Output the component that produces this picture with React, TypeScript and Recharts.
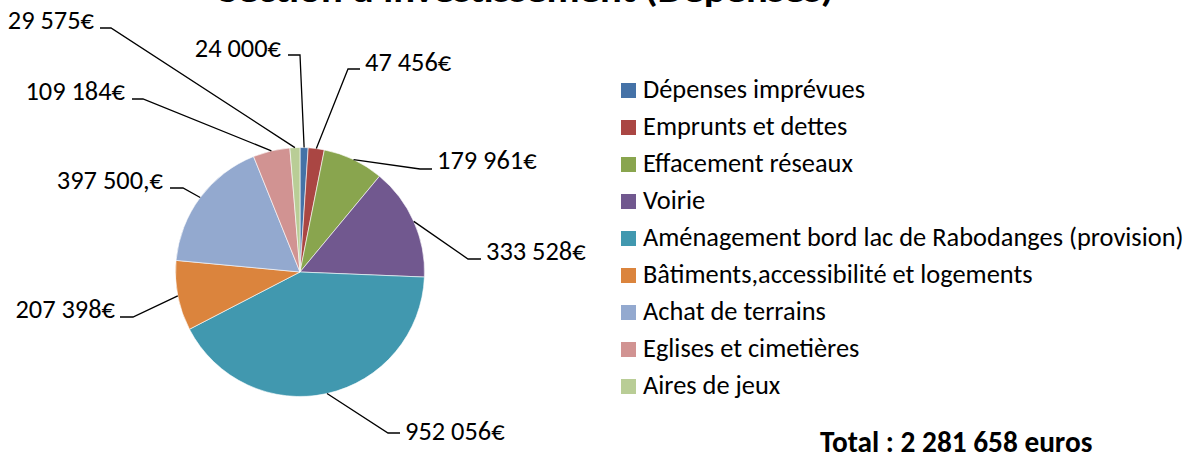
import React from 'react';
import { PieChart, Pie, Cell, Legend } from 'recharts';

const categories = [
  'Dépenses imprévues',
  'Emprunts et dettes',
  'Effacement réseaux',
  'Voirie',
  'Aménagement bord lac de Rabodanges (provision)',
  'Bâtiments,accessibilité et logements',
  'Achat de terrains',
  'Eglises et cimetières',
  'Aires de jeux',
];
const amounts = [24000, 47456, 179961, 333528, 952056, 207398, 397500, 109184, 29575];
const valueLabels = ['24 000€', '47 456€', '179 961€', '333 528€', '952 056€', '207 398€', '397 500,€', '109 184€', '29 575€'];
const colors = ['#4572A7', '#AA4643', '#89A54E', '#71588F', '#4198AF', '#DB843D', '#93A9CF', '#D19392', '#B9CD96'];
const titleText = "Section d'investissement (Dépenses)";
const totalText = 'Total : 2 281 658 euros';

const FONT = "Carlito, Calibri, Lato, 'Liberation Sans', sans-serif";
const TEXT_SIZE = 26.4;

// Layout of the manually placed data labels (elbow of leader line, end of horizontal stub, text anchor)
const labelLayout = [
  { ex: 300, ey: 55, hx: 288, tx: 281, ty: 57, anchor: 'end' },
  { ex: 348, ey: 69, hx: 360, tx: 365, ty: 71, anchor: 'start' },
  { ex: 420, ey: 169, hx: 432, tx: 437, ty: 169, anchor: 'start' },
  { ex: 468, ey: 259, hx: 481, tx: 486, ty: 260, anchor: 'start' },
  { ex: 388, ey: 433, hx: 400, tx: 405, ty: 440, anchor: 'start' },
  { ex: 133, ey: 317, hx: 120, tx: 115, ty: 318, anchor: 'end' },
  { ex: 183, ey: 188, hx: 170, tx: 163, ty: 189, anchor: 'end' },
  { ex: 143, ey: 99, hx: 132, tx: 125, ty: 100, anchor: 'end' },
  { ex: 111, ey: 28, hx: 100, tx: 94, ty: 29, anchor: 'end' },
];

const data = categories.map((name, i) => ({ name, value: amounts[i] }));

const RAD = Math.PI / 180;

const renderLabel = (props: any) => {
  const { cx, cy, midAngle, outerRadius, index } = props;
  const sx = cx + outerRadius * Math.cos(-midAngle * RAD);
  const sy = cy + outerRadius * Math.sin(-midAngle * RAD);
  const l = labelLayout[index];
  return (
    <g key={`lbl-${index}`}>
      <polyline
        points={`${sx},${sy} ${l.ex},${l.ey} ${l.hx},${l.ey}`}
        fill="none"
        stroke="#000"
        strokeWidth={1.3}
      />
      <text x={l.tx} y={l.ty} textAnchor={l.anchor} fontFamily={FONT} fontSize={TEXT_SIZE} fill="#000">
        {valueLabels[index]}
      </text>
    </g>
  );
};

const renderLegend = () => (
  <svg width={590} height={340} style={{ display: 'block' }}>
    {categories.map((name, i) => (
      <g key={name}>
        <rect x={11} y={13 + i * 37} width={15} height={15} fill={colors[i]} />
        <text x={33} y={28 + i * 37} fontFamily={FONT} fontSize={TEXT_SIZE} fill="#000">
          {name}
        </text>
      </g>
    ))}
  </svg>
);

export default function App() {
  return (
    <div style={{ position: 'absolute', left: 0, top: 0, width: 1198, height: 461, background: '#fff', overflow: 'hidden' }}>
      <PieChart width={1198} height={461} margin={{ top: 0, right: 0, bottom: 0, left: 0 }}>
        <Pie
          data={data}
          dataKey="value"
          nameKey="name"
          cx={300}
          cy={272}
          outerRadius={124.5}
          startAngle={90}
          endAngle={-270}
          stroke="#ffffff"
          strokeWidth={0.6}
          label={renderLabel}
          labelLine={false}
          isAnimationActive={false}
        >
          {data.map((d, i) => (
            <Cell key={d.name} fill={colors[i]} />
          ))}
        </Pie>
        <Legend
          content={renderLegend}
          wrapperStyle={{ position: 'absolute', left: 610, top: 70, width: 590, height: 340 }}
        />
      </PieChart>
      <svg width={1198} height={461} style={{ position: 'absolute', left: 0, top: 0, pointerEvents: 'none' }}>
        <text x={526} y={1.5} textAnchor="middle" fontFamily={FONT} fontWeight="bold" fontSize={32} fill="#000" textLength={615} lengthAdjust="spacingAndGlyphs">
          {titleText}
        </text>
        <text x={820} y={452} fontFamily={FONT} fontWeight="bold" fontSize={29.3} fill="#000">
          {totalText}
        </text>
      </svg>
    </div>
  );
}
